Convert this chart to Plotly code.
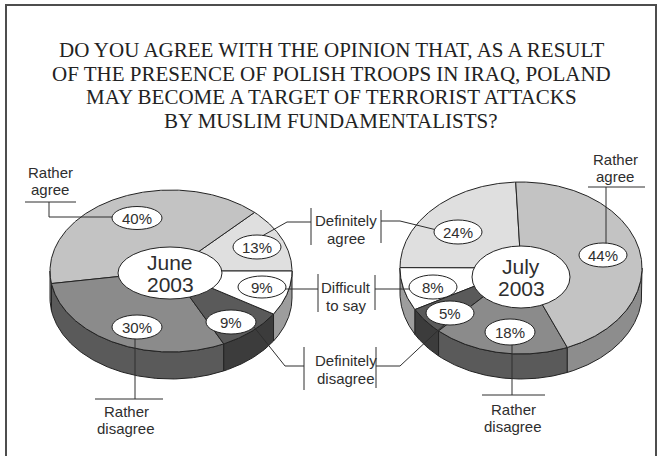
import numpy as np
import plotly.graph_objects as go

# ---------------- data ----------------
categories = ["Definitely agree", "Rather agree", "Difficult to say",
              "Rather disagree", "Definitely disagree"]
june_values = [13, 40, 9, 30, 9]
july_values = [24, 44, 8, 18, 5]
period_labels = ["June<br>2003", "July<br>2003"]
title_lines = [
    "DO YOU AGREE WITH THE OPINION THAT, AS A RESULT",
    "OF THE PRESENCE OF POLISH TROOPS IN IRAQ, POLAND",
    "MAY BECOME A TARGET OF TERRORIST ATTACKS",
    "BY MUSLIM FUNDAMENTALISTS?",
]
center_labels = [["Definitely", "agree"], ["Difficult", "to say"], ["Definitely", "disagree"]]
side_labels = [["Rather", "agree"], ["Rather", "disagree"]]

# ---------------- styles ----------------
TOP = {"Definitely agree": "#dfdfdf", "Rather agree": "#c3c3c3",
       "Difficult to say": "#ffffff", "Rather disagree": "#8b8b8b",
       "Definitely disagree": "#5a5a5a"}
SIDE = {"Definitely agree": "#a9a9a9", "Rather agree": "#8d8d8d",
        "Difficult to say": "#9d9d9d", "Rather disagree": "#5a5a5a",
        "Definitely disagree": "#3c3c3c"}
EDGE = "#232323"
TXT = "#2e2e2e"
SANS = "Liberation Sans"
SERIF = "Liberation Serif"

pies = [
    dict(values=june_values, label=period_labels[0],
         order=["Definitely agree", "Rather agree", "Rather disagree",
                "Definitely disagree", "Difficult to say"],
         start=0.0, cx=171, cy=271, a=121, b=81, depth=27,
         center_bubble=(170, 273, 104, 52),
         bubbles={"Rather agree": (137, 218, 50, 23), "Definitely agree": (257, 247, 48, 24),
                  "Difficult to say": (262, 287, 48, 22), "Definitely disagree": (231, 322, 50, 24),
                  "Rather disagree": (137, 327, 50, 24)}),
    dict(values=july_values, label=period_labels[1],
         order=["Definitely agree", "Difficult to say", "Definitely disagree",
                "Rather disagree", "Rather agree"],
         start=92.5, cx=521, cy=268, a=121, b=86, depth=25,
         center_bubble=(521, 277, 98, 62),
         bubbles={"Definitely agree": (458, 232, 48, 24), "Rather agree": (603, 255, 48, 24),
                  "Difficult to say": (433, 287, 48, 24), "Definitely disagree": (450, 313, 48, 24),
                  "Rather disagree": (510, 332, 50, 26)}),
]

fig = go.Figure()


def pt(p, th, dy=0.0):
    r = np.radians(th)
    return p["cx"] + p["a"] * np.cos(r), p["cy"] - p["b"] * np.sin(r) + dy


def poly(xs, ys, fill):
    fig.add_trace(go.Scatter(x=list(xs), y=list(ys), mode="lines", fill="toself",
                             fillcolor=fill, line=dict(color=EDGE, width=1),
                             hoverinfo="skip", showlegend=False))


def line(xs, ys, w=1):
    fig.add_trace(go.Scatter(x=xs, y=ys, mode="lines", line=dict(color=TXT, width=w),
                             hoverinfo="skip", showlegend=False))


for p in pies:
    vals = dict(zip(categories, p["values"]))
    total = sum(vals[c] for c in p["order"])
    spans = []
    t = p["start"]
    for c in p["order"]:
        dt = vals[c] / total * 360.0
        spans.append((c, t, t + dt))
        t += dt
    p["spans"] = spans
    p["vals"] = vals

# side faces
for p in pies:
    for c, t1, t2 in p["spans"]:
        for lo, hi in [(-180, 0), (180, 360), (540, 720)]:
            s, e = max(t1, lo), min(t2, hi)
            if e - s <= 0.01:
                continue
            th = np.linspace(s, e, max(4, int((e - s) * 2)))
            xt, yt = pt(p, th)
            xb, yb = pt(p, th[::-1], p["depth"])
            poly(np.r_[xt, xb, xt[0]], np.r_[yt, yb, yt[0]], SIDE[c])

# top faces
for p in pies:
    for c, t1, t2 in p["spans"]:
        th = np.linspace(t1, t2, max(4, int((t2 - t1) * 2)))
        xa, ya = pt(p, th)
        poly(np.r_[p["cx"], xa, p["cx"]], np.r_[p["cy"], ya, p["cy"]], TOP[c])

# leader lines
line([25, 76], [202, 202]); line([49, 49, 120], [202, 217, 217])
line([135, 135], [338, 399]); line([95, 163], [399, 399])
line([588, 645], [187, 187]); line([606, 606], [187, 245])
line([512, 512], [340, 395]); line([482, 545], [395, 395])
line([311, 311], [208, 245]); line([381, 381], [210, 243])
line([318, 318], [274, 312]); line([375, 375], [275, 310])
line([304, 304], [347, 390]); line([376, 376], [347, 388])
line([311, 287, 255], [222, 222, 240]); line([381, 400, 445], [221, 221, 232])
line([318, 270], [289, 289]); line([375, 425], [289, 289])
line([304, 285, 250], [366, 366, 322]); line([376, 400, 447], [366, 366, 322])

shapes = []
annotations = []


def txt(x, y, s, size=15, family=SANS, color=TXT):
    annotations.append(dict(x=x, y=y, text=s, showarrow=False,
                            font=dict(family=family, size=size, color=color)))


for p in pies:
    for c, (bx, by, bw, bh) in p["bubbles"].items():
        shapes.append(dict(type="circle", xref="x", yref="y", x0=bx - bw / 2, x1=bx + bw / 2,
                           y0=by - bh / 2, y1=by + bh / 2, fillcolor="white",
                           line=dict(color=EDGE, width=1)))
        txt(bx, by, f"{p['vals'][c]}%")
    bx, by, bw, bh = p["center_bubble"]
    shapes.append(dict(type="circle", xref="x", yref="y", x0=bx - bw / 2, x1=bx + bw / 2,
                       y0=by - bh / 2, y1=by + bh / 2, fillcolor="white",
                       line=dict(color=EDGE, width=1)))
    l1, l2 = p["label"].split("<br>")
    txt(bx, by - 11, l1, size=21)
    txt(bx, by + 11, l2, size=21)

shapes.append(dict(type="path", xref="x", yref="y", path="M 6,470 L 6,5 L 656,5 L 656,470",
                   line=dict(color="#4d4d4d", width=2)))

for i, t in enumerate(title_lines):
    txt(331, 50 + i * 23.7, t, size=21, family=SERIF, color="#222")

for lines, (x, y) in zip(center_labels, [(346, 220), (346, 287), (346, 360)]):
    txt(x, y, lines[0]); txt(x, y + 18, lines[1])
for lines, (x, y) in zip([side_labels[0], side_labels[1], side_labels[0], side_labels[1]],
                         [(50, 172), (126, 411), (615, 159), (513, 409)]):
    txt(x, y, lines[0]); txt(x, y + 17, lines[1])

fig.update_layout(
    width=661, height=456, margin=dict(l=0, r=0, t=0, b=0),
    paper_bgcolor="white", plot_bgcolor="white",
    xaxis=dict(range=[0, 661], visible=False, fixedrange=True),
    yaxis=dict(range=[456, 0], visible=False, fixedrange=True),
    shapes=shapes, annotations=annotations, showlegend=False,
)
fig.write_html("out.html", config={"displayModeBar": False},
               post_script="document.body.style.margin='0px';")
